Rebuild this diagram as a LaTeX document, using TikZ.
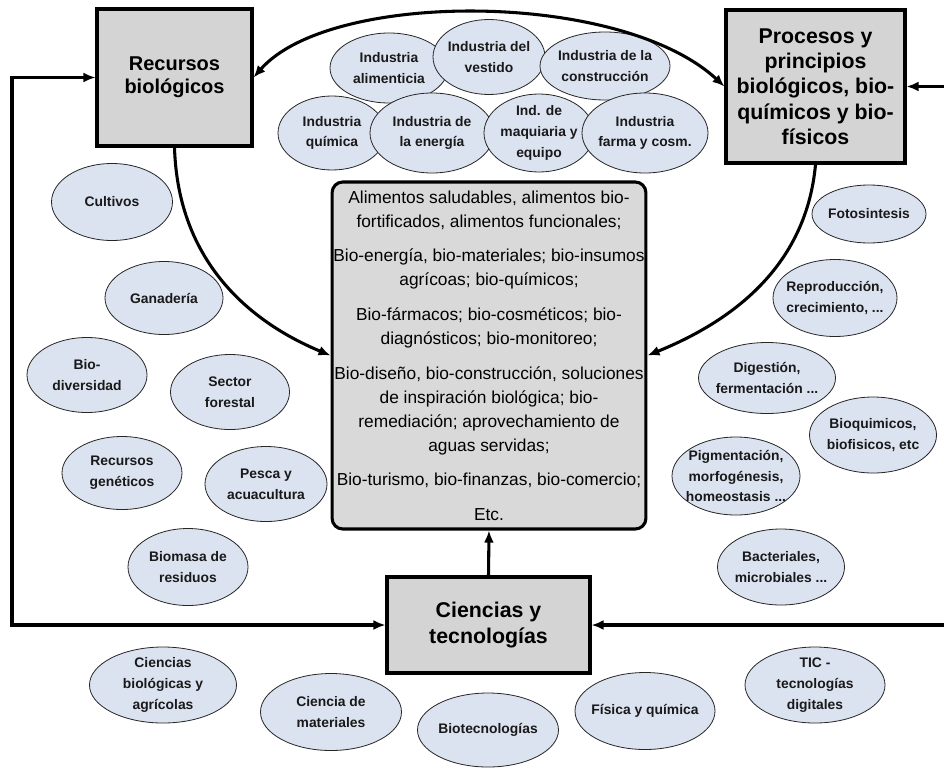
\documentclass[tikz,border=0pt]{standalone}
\usepackage{fontspec}
\setmainfont{Liberation Sans}
\usetikzlibrary{shapes.geometric,arrows.meta}
\definecolor{ellfill}{HTML}{DCE3F0}
\definecolor{boxfill}{HTML}{D4D4D4}
\definecolor{cboxfill}{HTML}{D9D9D9}
\tikzset{
  ell/.style 2 args={ellipse, draw=black!85, fill=ellfill, line width=0.6pt,
    inner sep=0pt, minimum width=#1*0.75pt, minimum height=#2*0.75pt},
  lbl/.style={align=center, inner sep=0pt, font=\fontsize{10.4}{15.5}\selectfont\bfseries, text=black!90},
  bigbox/.style 2 args={rectangle, draw=black, fill=boxfill, line width=2.3pt,
    minimum width=#1*0.75pt, minimum height=#2*0.75pt, align=center, inner sep=2pt},
  cbox/.style={rectangle, rounded corners=8pt, draw=black, fill=cboxfill, line width=2.3pt,
    minimum width=312*0.75pt, minimum height=347*0.75pt, align=center, inner sep=1pt,
    font=\fontsize{13}{18}\selectfont},
  arr/.style={line width=2.3pt, -{Latex[length=9pt,width=7.5pt]}},
  darr/.style={line width=2.3pt, {Latex[length=9pt,width=7.5pt]}-{Latex[length=9pt,width=7.5pt]}},
}
\begin{document}
\begin{tikzpicture}[x=0.75pt,y=-0.75pt]
\useasboundingbox (0,0) rectangle (944,767);
\clip (0,0) rectangle (944,767);
\fill[white] (0,0) rectangle (944,767);

% main boxes
\node[bigbox={155}{137}, font=\fontsize{15}{17}\selectfont\bfseries] (rec) at (174.5,77.5) {Recursos\\biológicos};
\node[bigbox={179}{153}, font=\fontsize{16}{19}\selectfont\bfseries] (proc) at (815.5,86.5) {Procesos y\\principios\\biológicos, bio-\\químicos y bio-\\físicos};
\node[bigbox={203}{96}, font=\fontsize{16}{20}\selectfont\bfseries] (cien) at (488.5,625) {Ciencias y\\tecnologías};
\node[cbox] (prod) at (489,355.5) {Alimentos saludables, alimentos bio-\\fortificados, alimentos funcionales;\\[8pt]
Bio-energía, bio-materiales; bio-insumos\\agrícoas; bio-químicos;\\[8pt]
Bio-fármacos; bio-cosméticos; bio-\\diagnósticos; bio-monitoreo;\\[8pt]
Bio-diseño, bio-construcción, soluciones\\de inspiración biológica; bio-\\remediación; aprovechamiento de\\aguas servidas;\\[8pt]
Bio-turismo, bio-finanzas, bio-comercio;\\[8pt]
Etc.};

% industry ellipses
\node[ell={118}{70}, label={[lbl]center:{Industria\\alimenticia}}] (i1) at (389,68) {};
\node[ell={112}{75}, label={[lbl]center:{Industria del\\vestido}}] (i2) at (489,57) {};
\node[ell={130}{68}, label={[lbl]center:{Industria de la\\construcción}}] (i3) at (605,66) {};
\node[ell={108}{74}, label={[lbl]center:{Industria\\química}}] (i4) at (332,133) {};
\node[ell={124}{80}, label={[lbl]center:{Industria de\\la energía}}] (i5) at (432,133) {};
\node[ell={110}{78}, label={[lbl]center:{Ind. de\\maquiaria y\\equipo}}] (i6) at (539,133) {};
\node[ell={126}{80}, label={[lbl]center:{Industria\\farma y cosm.}}] (i7) at (645,133) {};

% left resources
\node[ell={121}{77}, label={[lbl]center:{Cultivos}}] (l1) at (112,202) {};
\node[ell={118}{73}, label={[lbl]center:{Ganadería}}] (l2) at (164,298) {};
\node[ell={120}{75}, label={[lbl]center:{Bio-\\diversidad}}] (l3) at (87,375) {};
\node[ell={119}{75}, label={[lbl]center:{Sector\\forestal}}] (l4) at (230,392) {};
\node[ell={120}{73}, label={[lbl]center:{Recursos\\genéticos}}] (l5) at (122,473) {};
\node[ell={122}{75}, label={[lbl]center:{Pesca y\\acuacultura}}] (l6) at (266,484) {};
\node[ell={120}{77}, label={[lbl]center:{Biomasa de\\residuos}}] (l7) at (188,567) {};

% right processes
\node[ell={114}{58}, label={[lbl]center:{Fotosintesis}}] (r1) at (869,214) {};
\node[ell={124}{77}, label={[lbl]center:{Reproducción,\\crecimiento, ...}}] (r2) at (835,298) {};
\node[ell={137}{71}, label={[lbl]center:{Digestión,\\fermentación ...}}] (r3) at (767,378) {};
\node[ell={127}{76}, label={[lbl]center:{Bioquimicos,\\biofisicos, etc}}] (r4) at (873,435) {};
\node[ell={128}{78}, label={[lbl]center:{Pigmentación,\\morfogénesis,\\homeostasis ...}}] (r5) at (736,476) {};
\node[ell={127}{76}, label={[lbl]center:{Bacteriales,\\microbiales ...}}] (r6) at (781,567) {};

% bottom sciences
\node[ell={147}{76}, label={[lbl]center:{Ciencias\\biológicas y\\agrícolas}}] (b1) at (163,685) {};
\node[ell={141}{77}, label={[lbl]center:{Ciencia de\\materiales}}] (b2) at (331,712) {};
\node[ell={141}{74}, label={[lbl]center:{Biotecnologías}}] (b3) at (488,730) {};
\node[ell={140}{77}, label={[lbl]center:{Física y química}}] (b4) at (645,711) {};
\node[ell={140}{76}, label={[lbl]center:{TIC -\\tecnologías\\digitales}}] (b5) at (815,685) {};

% connectors
\coordinate (lc) at (12,0);
\coordinate (rc) at (962,0);
\draw[darr] (rec.east) .. controls (330,-10) and (620,-10) .. (proc.west);
\draw[arr] (rec.south) .. controls (178,262) and (250,322) .. (prod.west);
\draw[arr] (proc.south) .. controls (806,268) and (730,322) .. (prod.east);
\draw[arr] (cien.north) -- (prod.south);
\draw[darr] (rec.west) -- (rec.west -| lc) -- (cien.west -| lc) -- (cien.west);
\draw[darr] (proc.east) -- (proc.east -| rc) -- (cien.east -| rc) -- (cien.east);
\end{tikzpicture}
\end{document}
